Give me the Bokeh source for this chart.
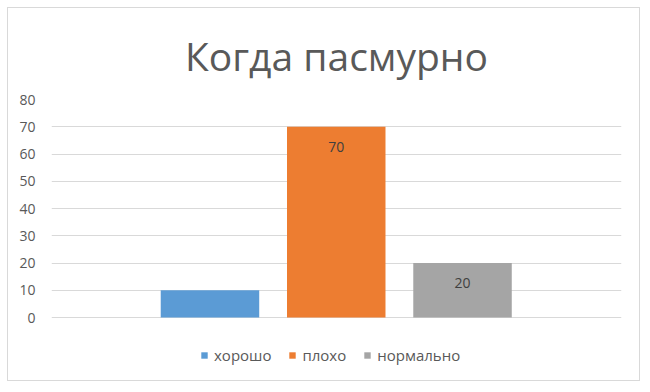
from bokeh.plotting import figure
from bokeh.models import ColumnDataSource, Range1d, Legend, LegendItem, FixedTicker
from bokeh.core.properties import value
from bokeh.embed import file_html
from bokeh.resources import INLINE

# data
title_text = "Когда пасмурно"
categories = ["хорошо", "плохо", "нормально"]
values = [10, 70, 20]
data_labels = ["", "70", "20"]
colors = ["#5B9BD5", "#ED7D31", "#A5A5A5"]
y_ticks = [0, 10, 20, 30, 40, 50, 60, 70, 80]

FONT = "Open Sans"
xs = list(range(len(categories)))
src = ColumnDataSource(dict(x=xs, top=values, cat=categories, color=colors))
lab_idx = [i for i, s in enumerate(data_labels) if s]
lab_src = ColumnDataSource(dict(x=[xs[i] for i in lab_idx],
                                y=[values[i] for i in lab_idx],
                                text=[data_labels[i] for i in lab_idx]))

# frame extends below the zero line to hold the legend
p = figure(width=633, height=374, output_backend="svg", toolbar_location=None,
           x_range=Range1d(-1.255, 3.259), y_range=Range1d(-22.0, 80),
           min_border_left=43, min_border_right=20, min_border_top=91, min_border_bottom=5,
           title=title_text)
p.styles = {"margin-left": "7px", "margin-top": "7px", "border": "1px solid #D9D9D9"}
p.title.align = "center"
p.title.text_font = FONT
p.title.text_font_size = "39px"
p.title.text_font_style = "normal"
p.title.text_color = "#595959"
p.title.standoff = 36

r = p.vbar(x="x", top="top", width=0.78, bottom=0, source=src, fill_color="color", line_color=None)

p.text(x="x", y="y", text="text", source=lab_src, y_offset=20,
       text_align="center", text_baseline="middle", text_font=value(FONT),
       text_font_size="14px", text_color="#404040")

p.xaxis.visible = False
p.yaxis.ticker = FixedTicker(ticks=y_ticks)
p.yaxis.axis_line_color = None
p.yaxis.major_tick_line_color = None
p.yaxis.minor_tick_line_color = None
p.yaxis.major_label_standoff = 10
p.yaxis.major_label_text_font = FONT
p.yaxis.major_label_text_font_size = "14px"
p.yaxis.major_label_text_color = "#595959"

p.xgrid.visible = False
p.ygrid.ticker = FixedTicker(ticks=y_ticks)
p.ygrid.grid_line_color = "#D9D9D9"
p.ygrid.grid_line_width = 1
p.outline_line_color = None

items = [LegendItem(label=c, renderers=[r], index=i) for i, c in enumerate(categories)]
leg = Legend(items=items, orientation="horizontal", location=(149, 12),
             label_text_font=FONT, label_text_font_size="15px", label_text_color="#595959",
             glyph_width=8, glyph_height=8, label_standoff=6, spacing=17,
             border_line_color=None, background_fill_alpha=0, padding=0, margin=0)
p.add_layout(leg)

open("out.html", "w").write(file_html(p, INLINE))
